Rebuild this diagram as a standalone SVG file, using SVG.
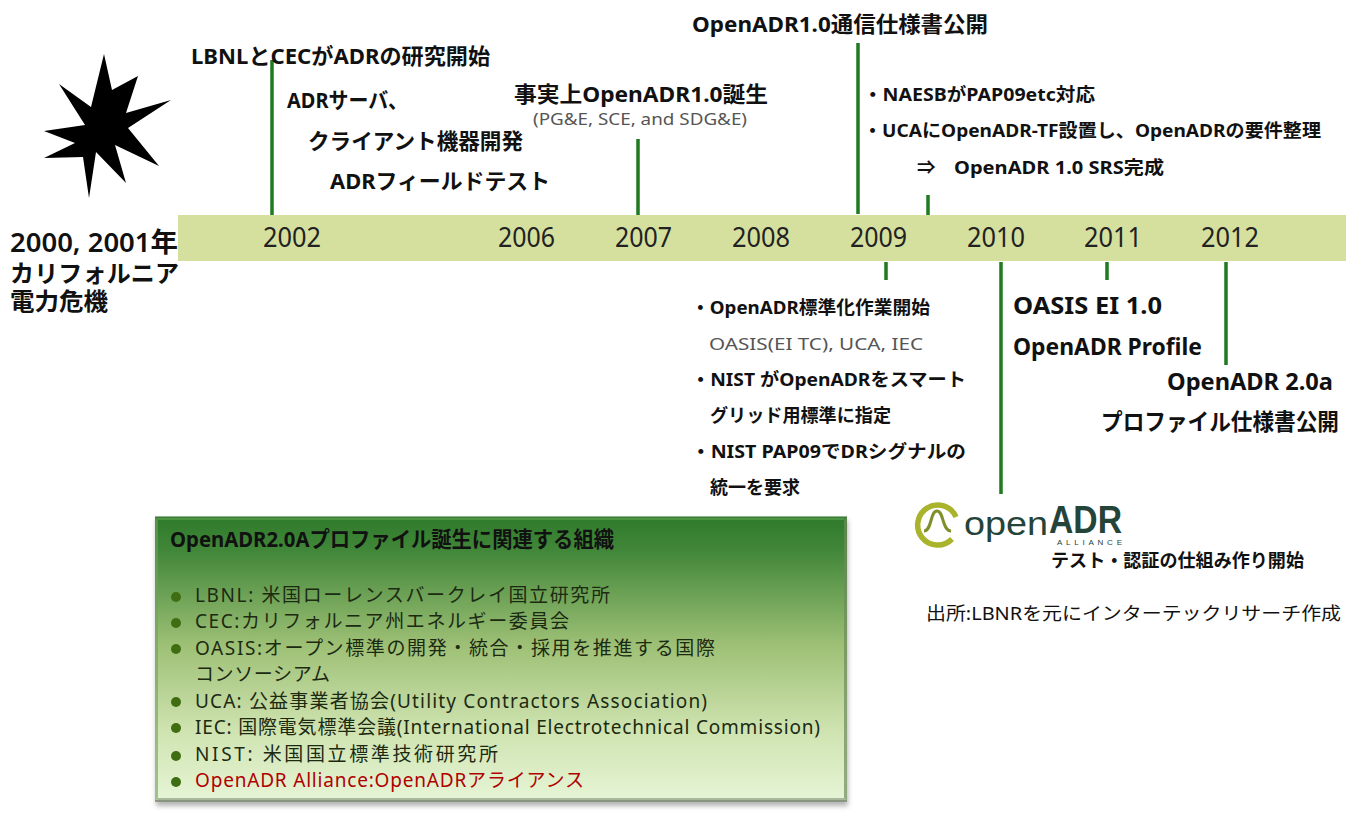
<svg xmlns="http://www.w3.org/2000/svg" width="1359" height="815" viewBox="0 0 1359 815">
<style>
text{font-family:"Noto Sans","Noto Sans CJK JP",sans-serif;fill:#111}
.h{font-size:21.5px;font-weight:700}
.m{font-size:18.5px;font-weight:700}
.l{font-size:23px;font-weight:700}
.y{font-family:"Noto Sans","Liberation Sans",sans-serif;font-size:27px;fill:#222}
.g{font-size:17px;fill:#555}
.i{font-size:19px;fill:#1c2a12}
.c{stroke:#1f7a20;stroke-width:3.5;fill:none}
.d{fill:#3f6e12}
.lg{font-family:"Liberation Sans",sans-serif;fill:#24443a}
</style>
<defs>
<linearGradient id="pg" x1="0" y1="0" x2="0" y2="1">
<stop offset="0" stop-color="#2f7a2b"/><stop offset=".12" stop-color="#42873a"/><stop offset=".45" stop-color="#9dc075"/><stop offset=".75" stop-color="#cfe3b0"/><stop offset="1" stop-color="#e6f5d6"/>
</linearGradient>
<filter id="sh" x="-5%" y="-5%" width="110%" height="115%"><feGaussianBlur stdDeviation="2.5"/></filter>
</defs>
<rect width="1359" height="815" fill="#fff"/>
<g id="timeline-bar">
<rect x="178" y="215" width="1168" height="46" fill="#d5e09f"/>
<text class="y" x="263" y="247" textLength="58" lengthAdjust="spacingAndGlyphs">2002</text>
<text class="y" x="498" y="247" textLength="57" lengthAdjust="spacingAndGlyphs">2006</text>
<text class="y" x="615" y="247" textLength="57" lengthAdjust="spacingAndGlyphs">2007</text>
<text class="y" x="732" y="247" textLength="58" lengthAdjust="spacingAndGlyphs">2008</text>
<text class="y" x="850" y="247" textLength="57" lengthAdjust="spacingAndGlyphs">2009</text>
<text class="y" x="967" y="247" textLength="58" lengthAdjust="spacingAndGlyphs">2010</text>
<text class="y" x="1084" y="247" textLength="58" lengthAdjust="spacingAndGlyphs">2011</text>
<text class="y" x="1201" y="247" textLength="58" lengthAdjust="spacingAndGlyphs">2012</text>
</g>
<g id="connectors">
<path class="c" d="M272 60V215M638 139V215M858 43V214M928 195V215M886 262V280M1001 262V494M1107 262V280M1226 262V365"/>
</g>
<g id="crisis">
<polygon fill="#000" points="104,54 112,90 138,76 126,113 171,100 128,128 159,166 115,145 126,183 96,152 89,198 83,157 44,158 75,143 44,131 85,125 59,84 91,107"/>
<text x="10" y="252" font-size="27" font-weight="600" textLength="168" lengthAdjust="spacingAndGlyphs">2000, 2001年</text>
<text x="10" y="282" font-size="24" font-weight="600" textLength="169">カリフォルニア</text>
<text x="10" y="310" font-size="24" font-weight="600" textLength="98" lengthAdjust="spacingAndGlyphs">電力危機</text>
</g>
<g id="e2002">
<text class="h" x="191" y="64" textLength="299" lengthAdjust="spacingAndGlyphs">LBNLとCECがADRの研究開始</text>
<text class="h" x="287" y="108" textLength="121" lengthAdjust="spacingAndGlyphs">ADRサーバ、</text>
<text class="h" x="308" y="149" textLength="215" lengthAdjust="spacingAndGlyphs">クライアント機器開発</text>
<text class="h" x="330" y="189" textLength="220" lengthAdjust="spacingAndGlyphs">ADRフィールドテスト</text>
</g>
<g id="e2007">
<text class="h" x="514" y="102" textLength="254" lengthAdjust="spacingAndGlyphs">事実上OpenADR1.0誕生</text>
<text class="g" x="533" y="125" textLength="214" lengthAdjust="spacingAndGlyphs">(PG&amp;E, SCE, and SDG&amp;E)</text>
</g>
<g id="e2009-top">
<text class="h" x="692" y="32" textLength="296" lengthAdjust="spacingAndGlyphs">OpenADR1.0通信仕様書公開</text>
</g>
<g id="e2009-mid">
<text class="m" x="863" y="101" textLength="232" lengthAdjust="spacingAndGlyphs">・NAESBがPAP09etc対応</text>
<text class="m" x="863" y="137" textLength="458" lengthAdjust="spacingAndGlyphs">・UCAにOpenADR-TF設置し、OpenADRの要件整理</text>
<text class="m" x="917" y="174">⇒</text>
<text class="m" x="954" y="174" textLength="210" lengthAdjust="spacingAndGlyphs">OpenADR 1.0 SRS完成</text>
</g>
<g id="e2009-low">
<text class="m" x="691" y="314" textLength="239" lengthAdjust="spacingAndGlyphs">・OpenADR標準化作業開始</text>
<text class="g" x="709" y="350" textLength="214" lengthAdjust="spacingAndGlyphs">OASIS(EI TC), UCA, IEC</text>
<text class="m" x="691" y="386" textLength="275" lengthAdjust="spacingAndGlyphs">・NIST がOpenADRをスマート</text>
<text class="m" x="710" y="422" textLength="181" lengthAdjust="spacingAndGlyphs">グリッド用標準に指定</text>
<text class="m" x="691" y="458" textLength="275" lengthAdjust="spacingAndGlyphs">・NIST PAP09でDRシグナルの</text>
<text class="m" x="710" y="494" textLength="90" lengthAdjust="spacingAndGlyphs">統一を要求</text>
</g>
<g id="e2010">
<text class="l" x="1013" y="314" textLength="149" lengthAdjust="spacingAndGlyphs">OASIS EI 1.0</text>
<text class="l" x="1013" y="355" textLength="189" lengthAdjust="spacingAndGlyphs">OpenADR Profile</text>
</g>
<g id="e2012">
<text class="l" x="1167" y="390" textLength="166" lengthAdjust="spacingAndGlyphs">OpenADR 2.0a</text>
<text class="l" x="1101" y="430" textLength="238" lengthAdjust="spacingAndGlyphs">プロファイル仕様書公開</text>
</g>
<g id="alliance-logo">
<path d="M952 539A20 20 0 1 1 956 517" fill="none" stroke="#a9b42c" stroke-width="5.5"/>
<path d="M924 531C932 531 930 511 937 511C944 511 942 531 951 531" fill="none" stroke="#7f8f2a" stroke-width="3"/>
<text class="lg" x="964" y="535" font-size="33" textLength="84" lengthAdjust="spacingAndGlyphs">open</text>
<text class="lg" x="1049" y="533" font-size="38" font-weight="700" textLength="73" lengthAdjust="spacingAndGlyphs">ADR</text>
<text class="lg" x="1057" y="545" font-size="8" textLength="65">ALLIANCE</text>
<text class="m" x="1051" y="567" textLength="253" lengthAdjust="spacingAndGlyphs">テスト・認証の仕組み作り開始</text>
</g>
<g id="source">
<text x="926" y="620" font-size="18" textLength="415" lengthAdjust="spacingAndGlyphs">出所:LBNRを元にインターテックリサーチ作成</text>
</g>
<g id="org-panel">
<rect x="156" y="520" width="692" height="286" fill="#777" opacity=".55" filter="url(#sh)"/>
<rect x="155" y="517" width="692" height="284" fill="url(#pg)"/>
<path d="M155 517H847L843 520H158Z" fill="#4c9443"/>
<path d="M155 517H847" stroke="#2a6a28" fill="none"/>
<path d="M155 801H847L844 798H158Z" fill="#a8b89c"/>
<path d="M155 801H847" stroke="#7d8a74" stroke-width="1.5" fill="none"/>
<path d="M155 517V801L158 798V520Z" fill="#6fa05c" opacity=".6"/>
<path d="M847 517V801L844 798V520Z" fill="#6d8a5c" opacity=".7"/>
<text class="h" x="170" y="547" textLength="444" lengthAdjust="spacingAndGlyphs">OpenADR2.0Aプロファイル誕生に関連する組織</text>
<g>
<ellipse class="d" cx="176" cy="597" rx="5" ry="5"/><ellipse class="d" cx="176" cy="623" rx="5" ry="5"/><ellipse class="d" cx="176" cy="649" rx="5" ry="5"/><ellipse class="d" cx="176" cy="702" rx="5" ry="5"/><ellipse class="d" cx="176" cy="728" rx="5" ry="5"/><ellipse class="d" cx="176" cy="756" rx="5" ry="5"/><ellipse class="d" cx="176" cy="782" rx="5" ry="5"/>
</g>
<text class="i" x="195" y="602" textLength="415">LBNL: 米国ローレンスバークレイ国立研究所</text>
<text class="i" x="195" y="628" textLength="374">CEC:カリフォルニア州エネルギー委員会</text>
<text class="i" x="195" y="655" textLength="520">OASIS:オープン標準の開発・統合・採用を推進する国際</text>
<text class="i" x="195" y="681" textLength="135">コンソーシアム</text>
<text class="i" x="195" y="708" textLength="512">UCA: 公益事業者協会(Utility Contractors Association)</text>
<text class="i" x="195" y="734" textLength="625">IEC: 国際電気標準会議(International Electrotechnical Commission)</text>
<text class="i" x="195" y="761" textLength="303">NIST: 米国国立標準技術研究所</text>
<text class="i" x="195" y="787" textLength="389" style="fill:#b00000">OpenADR Alliance:OpenADRアライアンス</text>
</g>
</svg>
